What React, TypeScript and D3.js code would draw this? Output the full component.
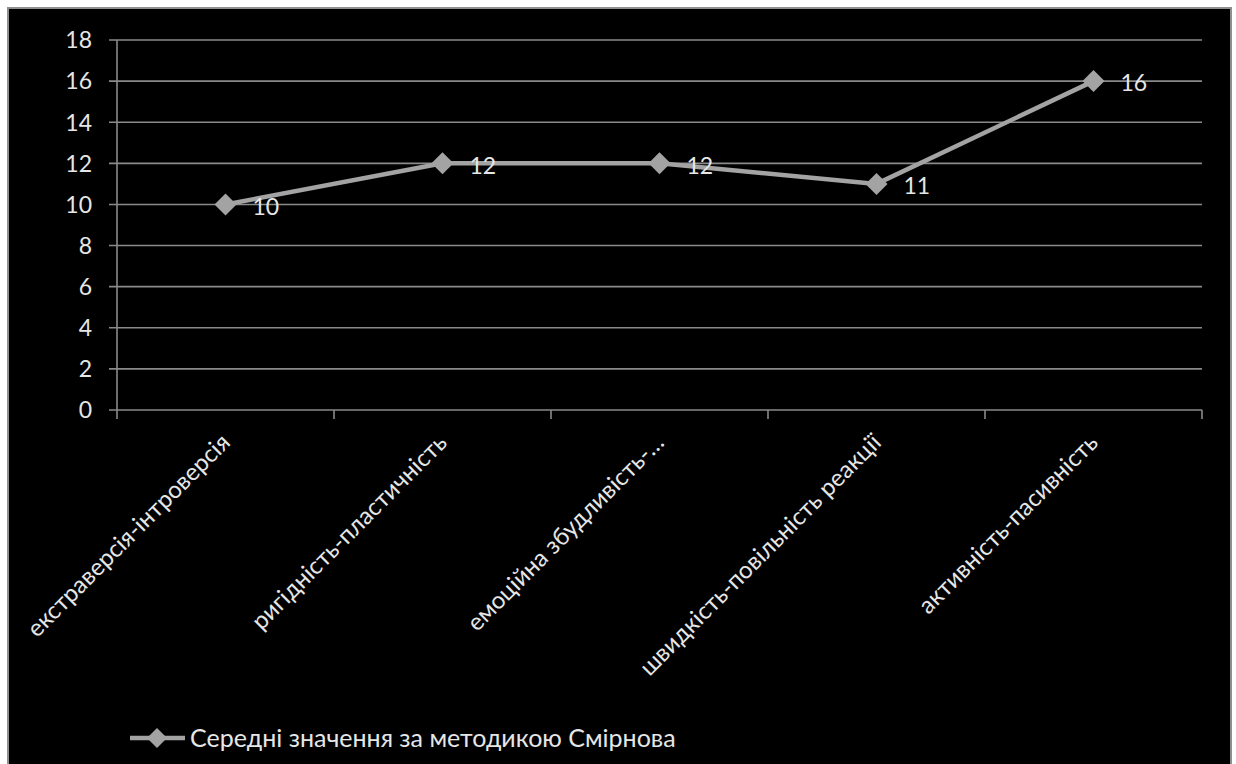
import React from "react";
import * as d3 from "d3";

const categories = [
  "екстраверсія-інтроверсія",
  "ригідність-пластичність",
  "емоційна збудливість-…",
  "швидкість-повільність реакції",
  "активність-пасивність",
];
const values = [10, 12, 12, 11, 16];
const yTicks = [0, 2, 4, 6, 8, 10, 12, 14, 16, 18];
const seriesName = "Середні значення за методикою Смірнова";

const W = 1236;
const H = 764;
const FONT = "Lato, 'Open Sans', sans-serif";
const TEXT = "#e6e6e6";
const GRID = "#8a8a8a";
const SERIES = "#a3a3a3";

export default function App() {
  const x = d3.scaleBand<string>().domain(categories).range([117, 1202]).padding(0);
  const y = d3.scaleLinear().domain([0, 18]).range([410, 40]);
  const cx = (c: string) => (x(c) as number) + x.bandwidth() / 2;
  const line = d3
    .line<number>()
    .x((_, i) => cx(categories[i]))
    .y((v) => y(v));
  const diamond = (px: number, py: number, r: number) =>
    `M${px},${py - r}L${px + r},${py}L${px},${py + r}L${px - r},${py}Z`;
  const boundaries = [...categories.map((c) => x(c) as number), 1202];

  return (
    <svg
      width={W}
      height={H}
      style={{ position: "absolute", left: 0, top: 0, display: "block", background: "#fff" }}
    >
      <rect x={8} y={8} width={1223} height={770} fill="#000" stroke="#8f8f8f" strokeWidth={2} />
      {yTicks.map((t) => (
        <g key={t}>
          <line x1={109} x2={1202} y1={y(t)} y2={y(t)} stroke={GRID} strokeWidth={1.6} />
          <text
            x={92}
            y={y(t)}
            dy="0.36em"
            textAnchor="end"
            fill={TEXT}
            fontFamily={FONT}
            fontSize={23}
          >
            {t}
          </text>
        </g>
      ))}
      <line x1={117} x2={117} y1={y(18)} y2={y(0)} stroke={GRID} strokeWidth={1.6} />
      {boundaries.map((b, i) => (
        <line key={i} x1={b} x2={b} y1={y(0)} y2={y(0) + 9} stroke={GRID} strokeWidth={1.6} />
      ))}
      <path d={line(values) || ""} fill="none" stroke={SERIES} strokeWidth={4.5} strokeLinejoin="round" />
      {values.map((v, i) => (
        <g key={i}>
          <path d={diamond(cx(categories[i]), y(v), 11)} fill={SERIES} />
          <text
            x={cx(categories[i]) + 27}
            y={y(v)}
            dy="0.45em"
            fill={TEXT}
            fontFamily={FONT}
            fontSize={23}
          >
            {v}
          </text>
        </g>
      ))}
      {categories.map((c) => (
        <text
          key={c}
          transform={`translate(${cx(c) + 6},${y(0) + 34}) rotate(-45)`}
          textAnchor="end"
          fill={TEXT}
          fontFamily={FONT}
          fontSize={24}
        >
          {c}
        </text>
      ))}
      <line x1={130} x2={185} y1={738} y2={738} stroke={SERIES} strokeWidth={4.5} />
      <path d={diamond(157, 738, 10)} fill={SERIES} />
      <text x={190} y={738} dy="0.36em" fill={TEXT} fontFamily={FONT} fontSize={25}>
        {seriesName}
      </text>
    </svg>
  );
}
